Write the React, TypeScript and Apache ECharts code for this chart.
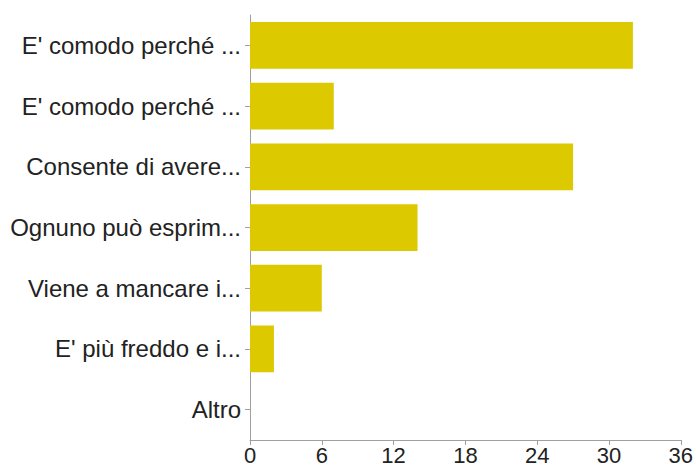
import React, { useEffect, useRef } from "react";
import * as echarts from "echarts";

const categories = [
  "E' comodo perché ...",
  "E' comodo perché ...",
  "Consente di avere...",
  "Ognuno può esprim...",
  "Viene a mancare i...",
  "E' più freddo e i...",
  "Altro",
];
const counts = [32, 7, 27, 14, 6, 2, 0];
const xTicks = { min: 0, max: 36, interval: 6 };

export default function App() {
  const ref = useRef<HTMLDivElement>(null);

  useEffect(() => {
    if (!ref.current) return;
    const chart = echarts.init(ref.current, null, { renderer: "svg" });
    const font = "'Liberation Sans', Arial, Helvetica, sans-serif";
    chart.setOption({
      animation: false,
      grid: { left: 250, right: 14, top: 15, bottom: 31, containLabel: false },
      xAxis: {
        type: "value",
        min: xTicks.min,
        max: xTicks.max,
        interval: xTicks.interval,
        axisLine: { show: true, lineStyle: { color: "#a0a0a0", width: 1 } },
        axisTick: { show: true, length: 5, lineStyle: { color: "#a0a0a0" } },
        splitLine: { show: false },
        axisLabel: { color: "#222", fontSize: 22, fontFamily: font, margin: 4 },
      },
      yAxis: {
        type: "category",
        data: categories,
        inverse: true,
        axisLine: { show: true, lineStyle: { color: "#a0a0a0", width: 1 } },
        axisTick: { show: true, length: 5, alignWithLabel: true, lineStyle: { color: "#a0a0a0" } },
        axisLabel: { color: "#222", fontSize: 24, fontFamily: font, margin: 9 },
      },
      series: [
        {
          type: "bar",
          data: counts,
          barCategoryGap: "23%",
          itemStyle: { color: "#dcc900" },
        },
      ],
    });
    return () => chart.dispose();
  }, []);

  return (
    <div
      ref={ref}
      style={{ position: "absolute", left: 0, top: 0, width: 696, height: 471 }}
    />
  );
}
